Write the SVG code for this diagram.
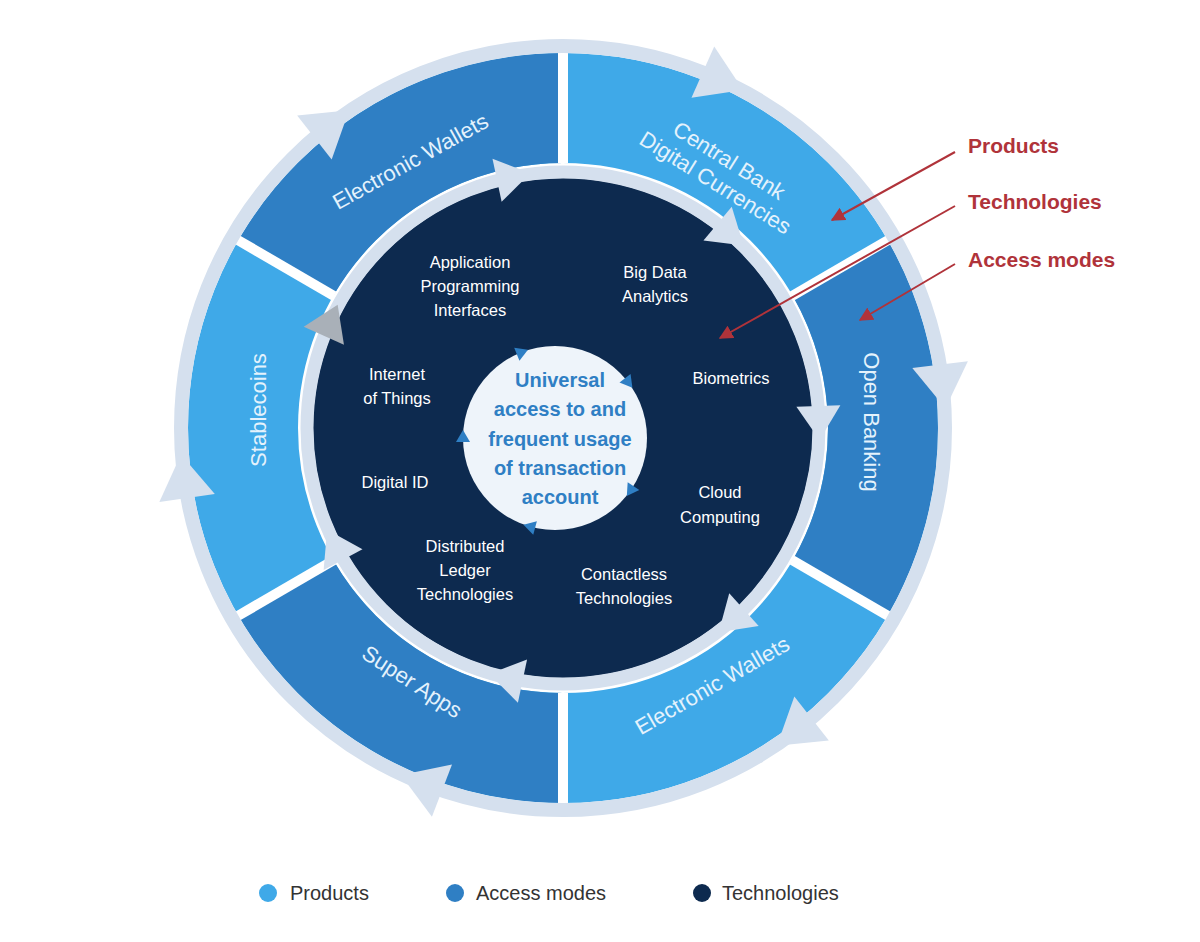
<svg xmlns="http://www.w3.org/2000/svg" width="1200" height="942" viewBox="0 0 1200 942">
<style>
.seg{font-family:"Liberation Sans",Arial,sans-serif;font-size:22px;fill:#e4f2fc;text-anchor:middle}
.in{font-family:"Liberation Sans",Arial,sans-serif;font-size:16.5px;fill:#ffffff;text-anchor:middle}
.ctr{font-family:"Liberation Sans",Arial,sans-serif;font-size:20px;font-weight:bold;fill:#2f7fc4;text-anchor:middle}
.ann{font-family:"Liberation Sans",Arial,sans-serif;font-size:21px;font-weight:bold;fill:#b0333a}
.leg{font-family:"Liberation Sans",Arial,sans-serif;font-size:20px;fill:#333}
.oa{fill:#d5e0ee}
.ca{fill:#2f7fc4}
</style>
<defs>
<marker id="rh" viewBox="0 0 10 10" refX="9" refY="5" markerWidth="7" markerHeight="7" orient="auto"><path d="M0,0 L10,5 L0,10 Z" fill="#b0333a"/></marker>
</defs>
<rect width="1200" height="942" fill="#ffffff"/>
<g id="outer-ring">
<circle cx="563" cy="428" r="320" fill="none" stroke="#3fa9e8" stroke-width="110"/>
<path d="M887.8,615.5 A375 375 0 0 0 887.8,240.5 L792.5,295.5 A265 265 0 0 1 792.5,560.5 Z" fill="#2f7fc4"/>
<path d="M238.2,615.5 A375 375 0 0 0 563,803 L563,693 A265 265 0 0 1 333.5,560.5 Z" fill="#2f7fc4"/>
<path d="M563,53 A375 375 0 0 0 238.2,240.5 L333.5,295.5 A265 265 0 0 1 563,163 Z" fill="#2f7fc4"/>
<g stroke="#ffffff" stroke-width="10">
<line x1="563" y1="50" x2="563" y2="163"/><line x1="563" y1="693" x2="563" y2="806"/>
<line x1="890" y1="239" x2="792" y2="296"/><line x1="890" y1="617" x2="792" y2="560"/>
<line x1="236" y1="239" x2="334" y2="296"/><line x1="236" y1="617" x2="334" y2="560"/>
</g>
<circle cx="563" cy="428" r="382" fill="none" stroke="#d5e0ee" stroke-width="14"/>
</g>
<g id="technologies-core">
<circle cx="563" cy="428" r="250" fill="#0d2a4f"/>
<circle cx="563" cy="428" r="256" fill="none" stroke="#d5e0ee" stroke-width="13"/>
<circle cx="555" cy="438" r="92" fill="#eef4fa"/>
</g>
<g id="connectors">
<g class="oa">
<polygon points="590,46 546,18 546,74" transform="rotate(24 563 428)"/>
<polygon points="590,46 546,18 546,74" transform="rotate(83 563 428)"/>
<polygon points="590,46 546,18 546,74" transform="rotate(142 563 428)"/>
<polygon points="590,46 546,18 546,74" transform="rotate(201 563 428)"/>
<polygon points="590,46 546,18 546,74" transform="rotate(262 563 428)"/>
<polygon points="590,46 546,18 546,74" transform="rotate(-38 563 428)"/>
<polygon points="584,172 550,150 550,194" transform="rotate(-12 563 428)"/>
<polygon points="584,172 550,150 550,194" transform="rotate(40 563 428)"/>
<polygon points="584,172 550,150 550,194" transform="rotate(88 563 428)"/>
<polygon points="584,172 550,150 550,194" transform="rotate(138 563 428)"/>
<polygon points="584,172 550,150 550,194" transform="rotate(192 563 428)"/>
<polygon points="584,172 550,150 550,194" transform="rotate(242 563 428)"/>
</g>
<polygon points="584,172 550,150 550,194" fill="#a9b0b8" transform="rotate(-66 563 428)"/>
<g class="ca">
<polygon points="563,346 551,339 551,353" transform="rotate(-22 555 438)"/>
<polygon points="563,346 551,339 551,353" transform="rotate(52 555 438)"/>
<polygon points="563,346 551,339 551,353" transform="rotate(124 555 438)"/>
<polygon points="563,346 551,339 551,353" transform="rotate(195 555 438)"/>
<polygon points="563,346 551,339 551,353" transform="rotate(270 555 438)"/>
</g>
<line x1="955" y1="152" x2="832" y2="220" stroke="#b0333a" stroke-width="2" marker-end="url(#rh)"/>
<line x1="955" y1="206" x2="720" y2="338" stroke="#b0333a" stroke-width="2" marker-end="url(#rh)"/>
<line x1="955" y1="264" x2="860" y2="320" stroke="#b0333a" stroke-width="2" marker-end="url(#rh)"/>
</g>
<g id="seg-ew-top"><text class="seg" transform="translate(414,168) rotate(-29)">Electronic Wallets</text></g>
<g id="seg-cbdc"><text class="seg" transform="translate(722,172) rotate(32)"><tspan x="0" y="-6">Central Bank</tspan><tspan x="0" y="20">Digital Currencies</tspan></text></g>
<g id="seg-ob"><text class="seg" transform="translate(864,422) rotate(90)">Open Banking</text></g>
<g id="seg-ew-bot"><text class="seg" transform="translate(716,692) rotate(-30)">Electronic Wallets</text></g>
<g id="seg-sa"><text class="seg" transform="translate(408,688) rotate(33)">Super Apps</text></g>
<g id="seg-sc"><text class="seg" transform="translate(266,410) rotate(-90)">Stablecoins</text></g>
<g id="t-api"><text class="in" x="470" y="268">Application</text><text class="in" x="470" y="292">Programming</text><text class="in" x="470" y="316">Interfaces</text></g>
<g id="t-bda"><text class="in" x="655" y="278">Big Data</text><text class="in" x="655" y="302">Analytics</text></g>
<g id="t-iot"><text class="in" x="397" y="380">Internet</text><text class="in" x="397" y="404">of Things</text></g>
<g id="t-bio"><text class="in" x="731" y="384">Biometrics</text></g>
<g id="t-did"><text class="in" x="395" y="488">Digital ID</text></g>
<g id="t-cc"><text class="in" x="720" y="498">Cloud</text><text class="in" x="720" y="523">Computing</text></g>
<g id="t-dlt"><text class="in" x="465" y="552">Distributed</text><text class="in" x="465" y="576">Ledger</text><text class="in" x="465" y="600">Technologies</text></g>
<g id="t-ct"><text class="in" x="624" y="580">Contactless</text><text class="in" x="624" y="604">Technologies</text></g>
<g id="center"><text class="ctr" x="560" y="387">Universal</text><text class="ctr" x="560" y="416">access to and</text><text class="ctr" x="560" y="446">frequent usage</text><text class="ctr" x="560" y="475">of transaction</text><text class="ctr" x="560" y="504">account</text></g>
<g id="annotations"><text class="ann" x="968" y="153">Products</text><text class="ann" x="968" y="209">Technologies</text><text class="ann" x="968" y="267">Access modes</text></g>
<g id="legend">
<circle cx="268" cy="893" r="9" fill="#3fa9e8"/><text class="leg" x="290" y="900">Products</text>
<circle cx="455" cy="893" r="9" fill="#2f7fc4"/><text class="leg" x="476" y="900">Access modes</text>
<circle cx="702" cy="893" r="9" fill="#0d2a4f"/><text class="leg" x="722" y="900">Technologies</text>
</g>
</svg>
